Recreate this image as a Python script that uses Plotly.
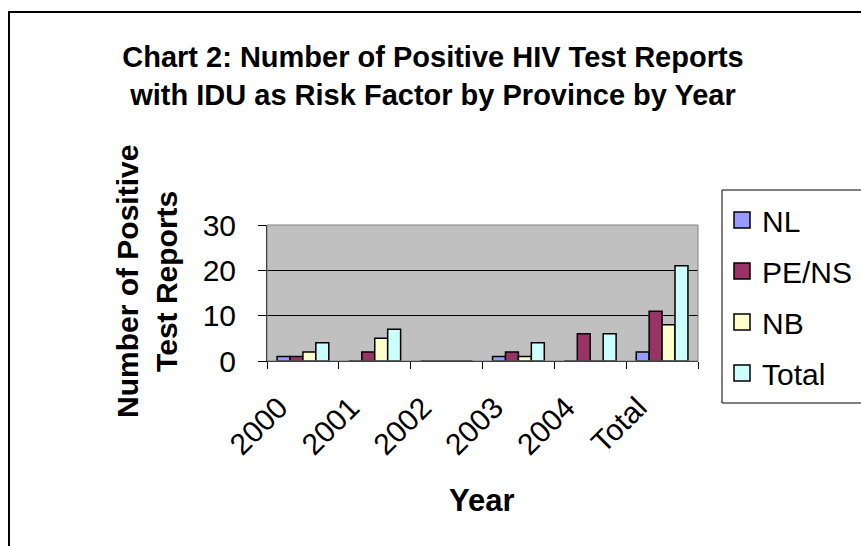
import plotly.graph_objects as go

# chart data
categories = ["2000", "2001", "2002", "2003", "2004", "Total"]
series_names = ["NL", "PE/NS", "NB", "Total"]
nl = [1, 0, 0, 1, 0, 2]
pe_ns = [1, 2, 0, 2, 6, 11]
nb = [2, 5, 0, 1, 0, 8]
total = [4, 7, 0, 4, 6, 21]
colors = ["#9999FF", "#993366", "#FFFFCC", "#CCFFFF"]

W, H = 861, 546
L, R, T, B = 267, 163, 225, 185
FONT = "Liberation Sans, Arial, sans-serif"


def px_x(x):
    # pixel x -> paper x
    return (x - L) / (W - L - R)


def px_y(y):
    # pixel y (from top) -> paper y
    return (H - B - y) / (H - T - B)


fig = go.Figure()
for name, vals, col in zip(series_names, [nl, pe_ns, nb, total], colors):
    fig.add_trace(go.Bar(
        x=categories, y=vals, name=name, legendgroup=name, showlegend=False,
        marker=dict(color=col, line=dict(color="black", width=1.5)),
    ))
    # legend entry with a bigger square swatch
    fig.add_trace(go.Scatter(
        x=[None], y=[None], name=name, legendgroup=name, mode="markers",
        marker=dict(symbol="square", size=16, color=col, line=dict(color="black", width=1.5)),
    ))

fig.update_layout(
    width=W, height=H,
    margin=dict(l=L, r=R, t=T, b=B),
    paper_bgcolor="white",
    plot_bgcolor="#C0C0C0",
    font=dict(family=FONT, color="black", size=30),
    barmode="group",
    bargap=0.28,
    bargroupgap=0,
    showlegend=True,
    title=dict(
        text="<b>Chart 2: Number of Positive HIV Test Reports<br>with IDU as Risk Factor by Province by Year</b>",
        font=dict(size=29, family=FONT),
        x=433 / W, xanchor="center", xref="container",
        y=1 - 67 / H, yanchor="top", yref="container",
    ),
    legend=dict(
        x=722 / W, xref="container", xanchor="left",
        y=1 - 194 / H, yref="container", yanchor="top",
        font=dict(size=30, family=FONT),
        bgcolor="rgba(0,0,0,0)",
        itemwidth=30,
        tracegroupgap=9,
    ),
    xaxis=dict(
        type="category",
        showline=True, linecolor="black", linewidth=1,
        ticks="outside", ticklen=7, tickcolor="black",
        tickson="boundaries",
        tickangle=-45,
        tickfont=dict(size=30),
        ticklabelshift=-24, ticklabelstandoff=16,
        showgrid=False,
    ),
    yaxis=dict(
        range=[0, 30], dtick=10,
        showline=True, linecolor="black", linewidth=1,
        ticks="outside", ticklen=8, tickcolor="black",
        tickfont=dict(size=30),
        ticklabelstandoff=16,
        showgrid=True, gridcolor="black", gridwidth=1,
        zeroline=False,
    ),
    annotations=[
        dict(text="<b>Year</b>", x=px_x(482), y=px_y(500), xref="paper", yref="paper",
             showarrow=False, font=dict(size=31), xanchor="center", yanchor="middle"),
        dict(text="<b>Number of Positive<br>Test Reports</b>", x=px_x(147), y=px_y(282),
             xref="paper", yref="paper", showarrow=False, textangle=-90,
             font=dict(size=30), xanchor="center", yanchor="middle"),
    ],
    shapes=[
        # outer chart border (cut off on right and bottom)
        dict(type="rect", xref="paper", yref="paper",
             x0=px_x(9), x1=px_x(900), y0=px_y(600), y1=px_y(12),
             line=dict(color="black", width=2)),
        # legend box
        dict(type="rect", xref="paper", yref="paper",
             x0=px_x(722), x1=px_x(900), y0=px_y(403), y1=px_y(190),
             line=dict(color="black", width=1)),
        # plot area frame
        dict(type="rect", xref="paper", yref="paper", x0=0, x1=1, y0=0, y1=1,
             line=dict(color="#808080", width=1)),
    ],
)

fig.write_html("out.html", config={"displayModeBar": False},
               post_script="document.body.style.margin='0';")
